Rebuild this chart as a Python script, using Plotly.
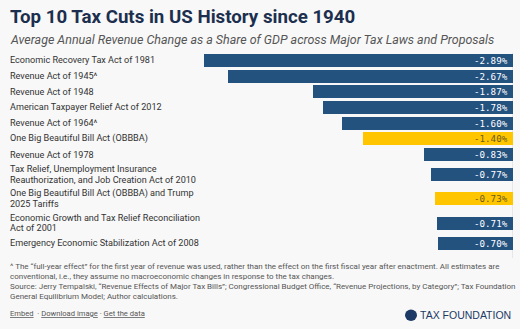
import plotly.graph_objects as go

# ---- data ----
laws = [
    "Economic Recovery Tax Act of 1981",
    "Revenue Act of 1945^",
    "Revenue Act of 1948",
    "American Taxpayer Relief Act of 2012",
    "Revenue Act of 1964^",
    "One Big Beautiful Bill Act (OBBBA)",
    "Revenue Act of 1978",
    "Tax Relief, Unemployment Insurance<br>Reauthorization, and Job Creation Act of 2010",
    "One Big Beautiful Bill Act (OBBBA) and Trump<br>2025 Tariffs",
    "Economic Growth and Tax Relief Reconciliation<br>Act of 2001",
    "Emergency Economic Stabilization Act of 2008",
]
revenue_change = [-2.89, -2.67, -1.87, -1.78, -1.60, -1.40, -0.83, -0.77, -0.73, -0.71, -0.70]
is_proposal = [False, False, False, False, False, True, False, False, True, False, False]

title = "Top 10 Tax Cuts in US History since 1940"
subtitle = "Average Annual Revenue Change as a Share of GDP across Major Tax Laws and Proposals"
footnote_lines = [
    "^ The \u201cfull-year effect\u201d for the first year of revenue was used, rather than the effect on the first fiscal year after enactment. All estimates are",
    "conventional, i.e., they assume no macroeconomic changes in response to the tax changes.",
    "Source: Jerry Tempalski, \u201cRevenue Effects of Major Tax Bills\u201d; Congressional Budget Office, \u201cRevenue Projections, by Category\u201d; Tax Foundation",
    "General Equilibrium Model; Author calculations.",
]

# ---- styles / layout ----
W, H = 520, 329
BLUE = "#24527f"
YELLOW = "#ffc600"
BG = "#f8f8f8"
LABEL_COLOR = "#333333"
ROW_1 = 15.7
ROW_2 = 24.3
TOP = 52.5
LINE_GAP = 10.6
FOOT_TOP = 266.5
FOOT_GAP = 10.1

# y positions (pixels from top) derived from label line counts
centers = []
cur = TOP
for lab in laws:
    h = ROW_2 if "<br>" in lab else ROW_1
    centers.append(cur + h / 2)
    cur += h

colors = [YELLOW if p else BLUE for p in is_proposal]
txtcolors = ["#6b5a1a" if p else "#ffffff" for p in is_proposal]

fig = go.Figure()
fig.add_trace(go.Bar(
    x=revenue_change, y=centers, orientation="h",
    marker=dict(color=colors, line=dict(width=0)),
    width=13, hoverinfo="skip",
))

ann = []
for lab, yc in zip(laws, centers):
    lines = lab.split("<br>")
    n = len(lines)
    for i, ln in enumerate(lines):
        ann.append(dict(xref="paper", yref="y", x=8 / W, y=yc + (i - (n - 1) / 2) * LINE_GAP,
                        text=ln, showarrow=False, xanchor="left", yanchor="middle",
                        font=dict(family="Roboto", size=9.1, color=LABEL_COLOR)))
for v, yc, tc in zip(revenue_change, centers, txtcolors):
    ann.append(dict(xref="x", yref="y", x=0, y=yc, text=f"{v:.2f}%", showarrow=False,
                    xanchor="right", yanchor="middle", xshift=-3,
                    font=dict(family="DejaVu Sans Mono", size=9.2, color=tc)))

ann.append(dict(xref="paper", yref="y", x=8 / W, y=17, text="<b>" + title + "</b>", showarrow=False,
                xanchor="left", yanchor="middle",
                font=dict(family="Roboto", size=18.7, color="#1c2f4e")))
ann.append(dict(xref="paper", yref="y", x=8 / W, y=39.5, text="<i>" + subtitle + "</i>", showarrow=False,
                xanchor="left", yanchor="middle",
                font=dict(family="Roboto", size=12.45, color="#555555")))
for i, ln in enumerate(footnote_lines):
    ann.append(dict(xref="paper", yref="y", x=8 / W, y=FOOT_TOP + i * FOOT_GAP, text=ln, showarrow=False,
                    xanchor="left", yanchor="middle", align="left",
                    font=dict(family="Roboto", size=8.0, color="#555555")))
ann.append(dict(xref="paper", yref="y", x=8 / W, y=313.5,
                text="<u>Embed</u>  · <u>Download image</u> · <u>Get the data</u>", showarrow=False,
                xanchor="left", yanchor="middle",
                font=dict(family="Roboto", size=7.6, color="#555555")))
ann.append(dict(xref="paper", yref="y", x=513 / W, y=315, text="TAX FOUNDATION", showarrow=False,
                xanchor="right", yanchor="middle",
                font=dict(family="Liberation Sans", size=10.5, color="#1d3a66")))

shapes = [
    dict(type="line", xref="x", yref="y", x0=0, x1=0, y0=TOP, y1=cur + 7,
         line=dict(color="#e2e2e2", width=1.5), layer="below"),
    dict(type="circle", xref="paper", yref="y", x0=405 / W, x1=417 / W, y0=309.5, y1=321,
         fillcolor="#1d3a66", line=dict(width=0)),
]

fig.update_layout(
    width=W, height=H,
    margin=dict(l=0, r=0, t=0, b=0),
    paper_bgcolor=BG, plot_bgcolor=BG,
    showlegend=False,
    xaxis=dict(domain=[204 / W, 513 / W], range=[min(revenue_change), 0],
               visible=False, fixedrange=True),
    yaxis=dict(domain=[0, 1], range=[H, 0], visible=False, fixedrange=True),
    annotations=ann,
    shapes=shapes,
    bargap=0,
)

fig.write_html("out.html")
